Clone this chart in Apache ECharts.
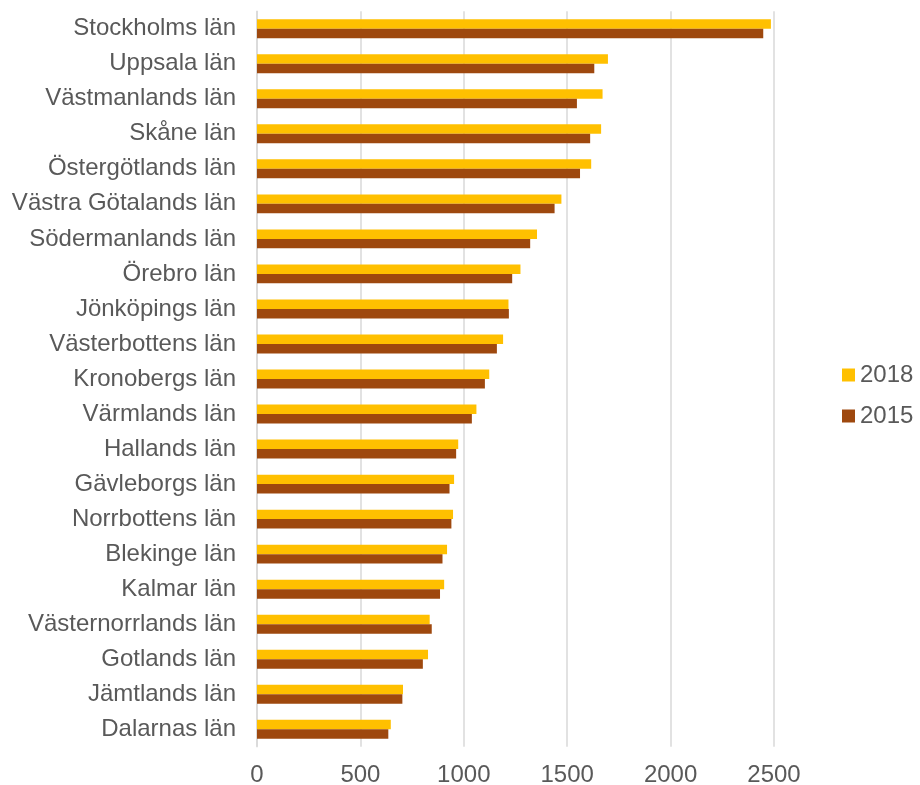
<!DOCTYPE html>
<html>
<head>
<meta charset="utf-8">
<script src="https://cdn.jsdelivr.net/npm/echarts@6/dist/echarts.min.js"></script>
<style>html,body{margin:0;padding:0;background:#fff}#c{width:920px;height:785px}</style>
</head>
<body>
<div id="c"></div>
<script>
const categories = ["Stockholms län","Uppsala län","Västmanlands län","Skåne län","Östergötlands län","Västra Götalands län","Södermanlands län","Örebro län","Jönköpings län","Västerbottens län","Kronobergs län","Värmlands län","Hallands län","Gävleborgs län","Norrbottens län","Blekinge län","Kalmar län","Västernorrlands län","Gotlands län","Jämtlands län","Dalarnas län"];
const values2018 = [2485,1697,1671,1664,1616,1472,1354,1274,1216,1190,1123,1061,973,953,948,919,905,835,827,706,647];
const values2015 = [2448,1631,1547,1611,1562,1439,1321,1234,1218,1160,1102,1039,963,931,940,897,885,845,802,703,635];
const xTicks = [0,500,1000,1500,2000,2500];

const font = 'Liberation Sans, Arial, sans-serif';
const chart = echarts.init(document.getElementById('c'));
chart.setOption({
  animation:false,
  backgroundColor:'#fff',
  textStyle:{fontFamily:font},
  grid:{left:257,right:146,top:11.2,bottom:38.2,containLabel:false,outerBoundsMode:'none'},
  legend:{
    orient:'vertical', left:837, top:358,
    itemWidth:13, itemHeight:13, itemGap:17, itemTextGap:5,
    icon:'rect',
    textStyle:{fontSize:24,color:'#595959',fontFamily:font},
    data:['2018','2015']
  },
  xAxis:{
    type:'value', min:xTicks[0], max:xTicks[xTicks.length-1], interval:500,
    axisLine:{show:false}, axisTick:{show:false},
    axisLabel:{fontSize:24,color:'#595959',margin:17,fontFamily:font,formatter:function(v){return String(v);}},
    splitLine:{show:true,lineStyle:{color:'#D9D9D9',width:1.5}}
  },
  yAxis:{
    type:'category', data:categories, inverse:true,
    axisLine:{show:true,lineStyle:{color:'#D9D9D9',width:1.5}},
    axisTick:{show:false},
    axisLabel:{fontSize:24,color:'#595959',margin:21,fontFamily:font}
  },
  series:[
    {name:'2018',type:'bar',data:values2018,itemStyle:{color:'#FFC000'},barGap:'0%',barCategoryGap:'46%'},
    {name:'2015',type:'bar',data:values2015,itemStyle:{color:'#9E480E'},barGap:'0%',barCategoryGap:'46%'}
  ]
});
</script>
</body>
</html>
